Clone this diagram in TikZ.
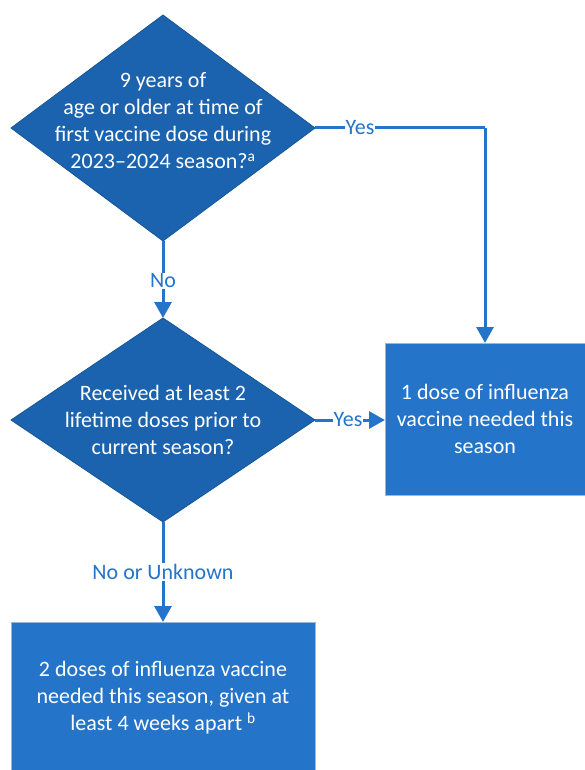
\documentclass[tikz,border=0pt]{standalone}
\usepackage{fontspec}
\setmainfont{Carlito}
\usetikzlibrary{shapes.geometric,arrows.meta}
\definecolor{diafill}{HTML}{1B63AE}
\definecolor{diadraw}{HTML}{175797}
\definecolor{boxfill}{HTML}{2474C9}
\definecolor{boxdraw}{HTML}{9DB6D6}
\definecolor{linecol}{HTML}{2474C9}
\tikzset{
  dia/.style={diamond, fill=diafill, draw=diadraw, line width=0.8pt, inner sep=0pt, outer sep=0pt},
  resbox/.style={rectangle, fill=boxfill, draw=boxdraw, line width=1pt, inner sep=0pt, outer sep=0pt},
  txt/.style={text=white, align=center, font=\fontsize{22}{27}\selectfont, inner sep=0pt},
  conn/.style={draw=linecol, line width=3pt, -{Triangle[length=16pt,width=17pt]}},
  plain/.style={draw=linecol, line width=3pt},
  lab/.style={fill=white, text=linecol, font=\fontsize{22}{25}\selectfont, inner sep=1pt}
}
\begin{document}
\begin{tikzpicture}[x=1pt,y=-1pt]
\useasboundingbox (0,0) rectangle (584,770);
\node[dia, minimum width=304pt, minimum height=226pt] (d1) at (163,128) {};
\node[txt] (t1) at (163,121) {9 years of\\age or older at time of\\first vaccine dose during\\2023--2024 season?\textsuperscript{a}};
\node[dia, minimum width=304pt, minimum height=204pt] (d2) at (163,420) {};
\node[txt] (t2) at (163,420) {Received at least 2\\lifetime doses prior to\\current season?};
\node[resbox, minimum width=200pt, minimum height=152pt, anchor=north west] (b1) at (385,343) {};
\node[txt] (t3) at (b1.center) {1 dose of influenza\\vaccine needed this\\season};
\node[resbox, minimum width=304pt, minimum height=160pt, anchor=north west] (b2) at (11,622) {};
\node[txt] (t4) at (163,698) {2 doses of influenza vaccine\\needed this season, given at\\least 4 weeks apart \textsuperscript{b}};
\coordinate (c1) at (485,128);
\draw[plain] (d1.east) -- (c1);
\draw[conn] (c1) -- (b1.north -| c1);
\node[lab] (y1) at (360,128) {Yes};
\draw[conn] (d1.south) -- (d2.north);
\node[lab] (n1) at (163,281) {No};
\draw[conn] (d2.east) -- (b1.west |- d2.east);
\node[lab] (y2) at (348,420) {Yes};
\draw[conn] (d2.south) -- (b2.north -| d2.south);
\node[lab] (n2) at (163,572) {No or Unknown};
\end{tikzpicture}
\end{document}
